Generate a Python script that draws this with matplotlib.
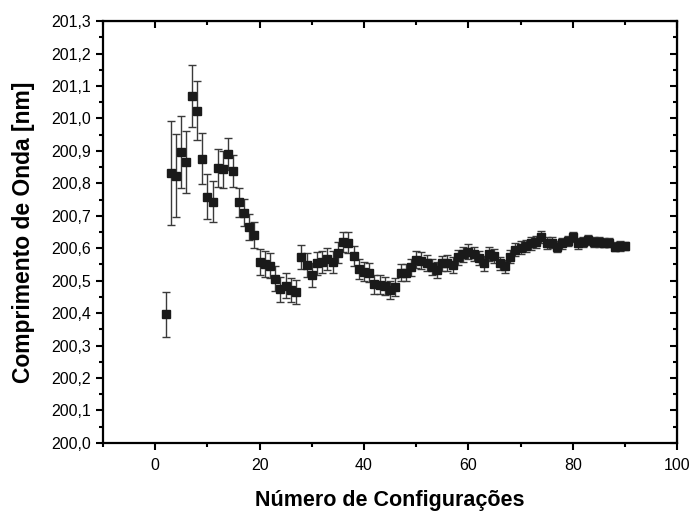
import matplotlib
matplotlib.use("Agg")
import matplotlib.pyplot as plt
from matplotlib.ticker import MultipleLocator, FuncFormatter, NullFormatter

configs = list(range(2, 91))
wavelength = [
    200.396, 200.831, 200.823, 200.897, 200.865, 201.070, 201.024, 200.876, 200.759, 200.743,
    200.848, 200.844, 200.891, 200.838, 200.741, 200.710, 200.665, 200.640, 200.557, 200.551,
    200.546, 200.506, 200.473, 200.485, 200.471, 200.464, 200.572, 200.548, 200.517, 200.553,
    200.558, 200.567, 200.557, 200.586, 200.619, 200.617, 200.576, 200.535, 200.528, 200.525,
    200.489, 200.487, 200.484, 200.471, 200.480, 200.525, 200.525, 200.541, 200.564, 200.561,
    200.555, 200.543, 200.533, 200.553, 200.555, 200.548, 200.572, 200.582, 200.589, 200.582,
    200.569, 200.553, 200.582, 200.576, 200.553, 200.545, 200.574, 200.595, 200.602, 200.607,
    200.615, 200.620, 200.634, 200.617, 200.617, 200.605, 200.615, 200.623, 200.634, 200.615,
    200.620, 200.625, 200.620, 200.620, 200.617, 200.617, 200.605, 200.607, 200.607,
]
errors = [
    0.070, 0.160, 0.128, 0.110, 0.096, 0.095, 0.090, 0.078, 0.070, 0.063,
    0.058, 0.057, 0.050, 0.048, 0.045, 0.043, 0.041, 0.040, 0.040, 0.039,
    0.039, 0.038, 0.038, 0.038, 0.037, 0.037, 0.037, 0.036, 0.036, 0.035,
    0.035, 0.034, 0.034, 0.033, 0.032, 0.032, 0.031, 0.031, 0.030, 0.030,
    0.029, 0.029, 0.028, 0.028, 0.028, 0.027, 0.027, 0.026, 0.026, 0.026,
    0.025, 0.025, 0.025, 0.024, 0.024, 0.024, 0.023, 0.023, 0.023, 0.022,
    0.022, 0.022, 0.021, 0.021, 0.021, 0.020, 0.020, 0.020, 0.019, 0.019,
    0.019, 0.018, 0.018, 0.018, 0.017, 0.017, 0.017, 0.016, 0.016, 0.016,
    0.015, 0.015, 0.015, 0.015, 0.014, 0.014, 0.014, 0.014, 0.013,
]

plt.rcParams['font.family'] = ['Liberation Sans Narrow', 'Liberation Sans', 'DejaVu Sans']

fig = plt.figure(figsize=(6.91, 5.15), dpi=100)
ax = fig.add_axes([0.149, 0.140, 0.831, 0.819])

ax.errorbar(configs, wavelength, yerr=errors, fmt='s', color='#1a1a1a',
            mec='#1a1a1a', ecolor='#3a3a3a', elinewidth=1.0, capsize=3.2, capthick=1.0,
            markersize=6.0, zorder=3)

ax.set_xlim(-10, 100)
ax.set_ylim(200.0, 201.3)
ax.xaxis.set_major_locator(MultipleLocator(20))
ax.xaxis.set_minor_locator(MultipleLocator(10))
ax.yaxis.set_major_locator(MultipleLocator(0.1))
ax.yaxis.set_minor_locator(MultipleLocator(0.05))
ax.yaxis.set_major_formatter(FuncFormatter(lambda v, p: f"{v:.1f}".replace('.', ',')))

for s in ax.spines.values():
    s.set_linewidth(1.6)

ax.tick_params(which='major', direction='out', length=5, width=1.5, labelsize=11.5)
ax.tick_params(axis='x', which='major', pad=6)
ax.tick_params(which='minor', direction='out', length=3, width=1.5)

secx = ax.secondary_xaxis('top')
secx.xaxis.set_major_locator(MultipleLocator(20))
secx.xaxis.set_minor_locator(MultipleLocator(10))
secx.xaxis.set_major_formatter(NullFormatter())
secx.tick_params(which='major', direction='in', length=5, width=1.5)
secx.tick_params(which='minor', direction='in', length=3, width=1.5)

secy = ax.secondary_yaxis('right')
secy.yaxis.set_major_locator(MultipleLocator(0.1))
secy.yaxis.set_minor_locator(MultipleLocator(0.05))
secy.yaxis.set_major_formatter(NullFormatter())
secy.tick_params(which='major', direction='in', length=5, width=1.5)
secy.tick_params(which='minor', direction='in', length=3, width=1.5)

ax.set_xlabel('Número de Configurações', fontsize=15.5, fontweight='bold',
              family=['Liberation Sans', 'DejaVu Sans'], labelpad=12)
ax.set_ylabel('Comprimento de Onda [nm]', fontsize=16.5, fontweight='bold',
              family=['Liberation Sans', 'DejaVu Sans'], labelpad=12)

fig.savefig('out.png', dpi=100)
